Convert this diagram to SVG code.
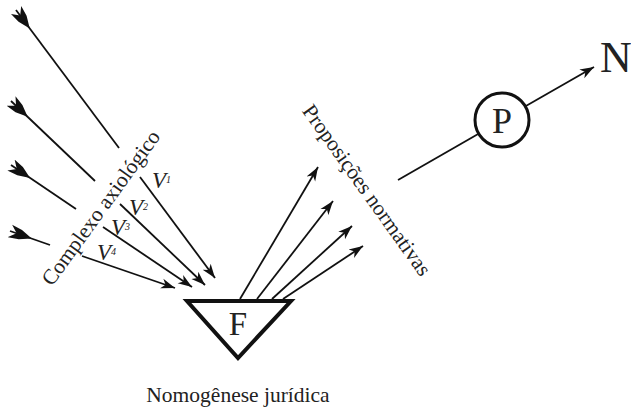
<svg xmlns="http://www.w3.org/2000/svg" width="631" height="409" viewBox="0 0 631 409">
<style>
.ln{stroke:#111;stroke-width:1.8;fill:none}
.hd{marker-end:url(#ah)}
.tl{marker-start:url(#fl)}
text{font-family:'Liberation Serif','Times New Roman',serif;fill:#222}
.lbl{font-size:21.5px}
.v{font-size:23px;font-style:italic}
.sup{font-size:10px}
</style>
<defs>
<marker id="ah" viewBox="0 0 16 12" markerWidth="16" markerHeight="12" refX="14" refY="6" orient="auto" markerUnits="userSpaceOnUse">
<path d="M0,1 L14,6 L0,11 L4,6 Z" fill="#111"/>
</marker>
<marker id="fl" viewBox="0 0 24 14" markerWidth="24" markerHeight="14" refX="0" refY="7" orient="auto" markerUnits="userSpaceOnUse">
<path d="M0,0.5 L11,2 L23,7 L11,12 L0,13.5 L7,7 Z" fill="#111"/>
</marker>
</defs>
<rect width="631" height="409" fill="#fff"/>
<g id="connectors">
<line class="ln tl" x1="16" y1="10" x2="119" y2="148"/>
<line class="ln hd" x1="140" y1="177" x2="215" y2="278"/>
<line class="ln tl" x1="11" y1="101" x2="95" y2="181"/>
<line class="ln hd" x1="120" y1="204" x2="205" y2="285"/>
<line class="ln tl" x1="11" y1="165" x2="76" y2="209"/>
<line class="ln hd" x1="103" y1="227" x2="192" y2="287"/>
<line class="ln tl" x1="10" y1="231" x2="50" y2="245"/>
<line class="ln hd" x1="82" y1="256" x2="175" y2="288"/>
<line class="ln hd" x1="240" y1="299" x2="318" y2="167"/>
<line class="ln hd" x1="257" y1="299" x2="333" y2="201"/>
<line class="ln hd" x1="272" y1="299" x2="352" y2="226"/>
<line class="ln hd" x1="283" y1="299" x2="363" y2="246"/>
<line class="ln" x1="398" y1="180" x2="479" y2="133.5"/>
<line class="ln hd" x1="525" y1="106.5" x2="594" y2="67"/>
</g>
<g id="node-F">
<polygon points="187,301 291,301 238,358" fill="#fff" stroke="#111" stroke-width="4" stroke-linejoin="miter"/>
<text x="238" y="335" font-size="33" text-anchor="middle">F</text>
</g>
<g id="node-P">
<circle cx="502" cy="120" r="27" fill="#fff" stroke="#111" stroke-width="3"/>
<text x="502" y="133" font-size="36" text-anchor="middle">P</text>
</g>
<g id="node-N">
<text x="600" y="72" font-size="44">N</text>
</g>
<g id="label-complexo">
<text class="lbl" transform="translate(52,287) rotate(-54)">Complexo axiológico</text>
</g>
<g id="label-proposicoes">
<text class="lbl" transform="translate(301.5,111) rotate(54.4)">Proposições normativas</text>
</g>
<g id="label-nomogenese">
<text class="lbl" x="238" y="402" text-anchor="middle">Nomogênese jurídica</text>
</g>
<g id="labels-v">
<text class="v" x="152" y="188">V<tspan class="sup" dy="-5">1</tspan></text>
<text class="v" x="129" y="215">V<tspan class="sup" dy="-5">2</tspan></text>
<text class="v" x="111" y="235">V<tspan class="sup" dy="-5">3</tspan></text>
<text class="v" x="97" y="260">V<tspan class="sup" dy="-5">4</tspan></text>
</g>
</svg>
